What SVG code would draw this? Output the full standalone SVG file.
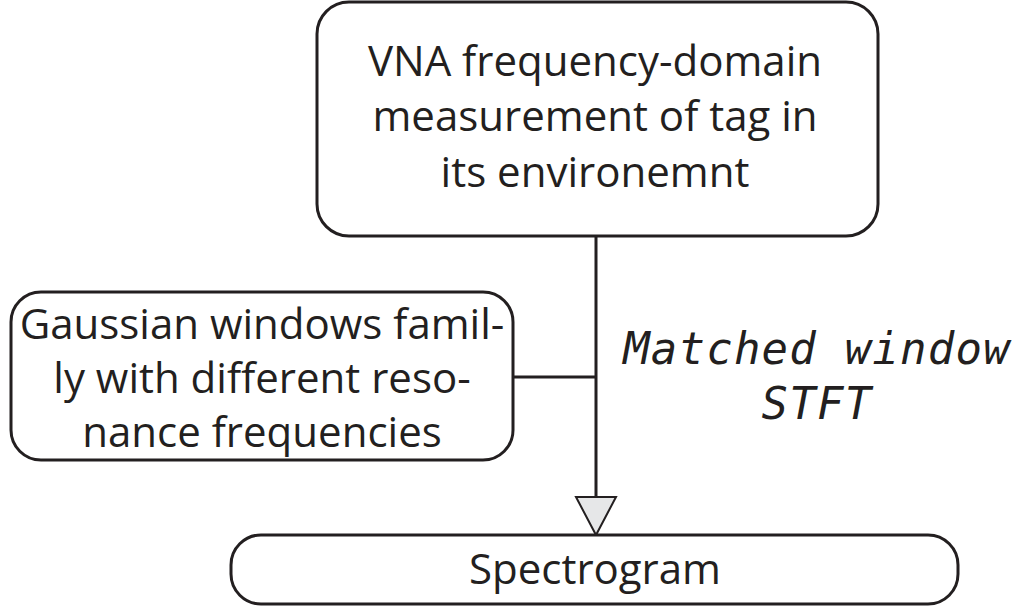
<svg xmlns="http://www.w3.org/2000/svg" width="1031" height="611" viewBox="0 0 1031 611">
<style>
.box{fill:#fff;stroke:#231f20;stroke-width:3}
.t{font-family:"Open Sans","Noto Sans",sans-serif;font-size:42px;fill:#231f20;text-anchor:middle}
.m{font-family:"DejaVu Sans Mono",monospace;font-style:italic;font-size:44px;letter-spacing:1.2px;fill:#231f20;text-anchor:middle}
.ln{stroke:#231f20;stroke-width:3;fill:none}
</style>
<rect width="1031" height="611" fill="#fff"/>
<g id="connectors">
<line class="ln" x1="596" y1="236" x2="596" y2="497"/>
<line class="ln" x1="513" y1="377" x2="596" y2="377"/>
<polygon points="576,497 616,497 596,535" fill="#e6e7e8" stroke="#231f20" stroke-width="2"/>
</g>
<g id="n1">
<rect class="box" x="317" y="2" width="561" height="234" rx="32"/>
<text class="t" x="595" y="76">VNA frequency-domain</text>
<text class="t" x="595" y="131">measurement of tag in</text>
<text class="t" x="595" y="187">its environemnt</text>
</g>
<g id="n2">
<rect class="box" x="11" y="292" width="502" height="168" rx="30"/>
<text class="t" x="262" y="339">Gaussian windows famil-</text>
<text class="t" x="262" y="393">ly with different reso-</text>
<text class="t" x="262" y="447">nance frequencies</text>
</g>
<g id="n3">
<rect class="box" x="231" y="535" width="727" height="69" rx="30"/>
<text class="t" x="595" y="584">Spectrogram</text>
</g>
<g id="label">
<text class="m" x="817" y="364">Matched window</text>
<text class="m" x="817" y="419">STFT</text>
</g>
</svg>
